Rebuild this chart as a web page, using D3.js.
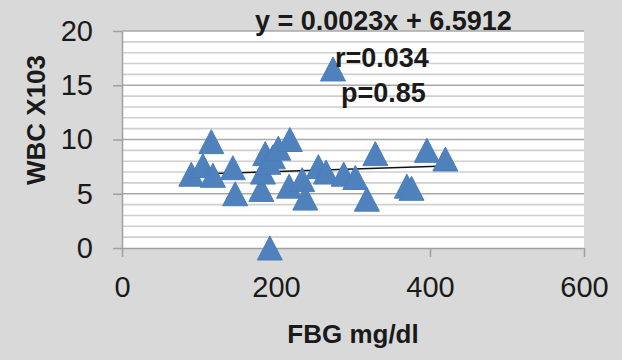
<!DOCTYPE html>
<html>
<head>
<meta charset="utf-8">
<script src="https://cdn.jsdelivr.net/npm/d3@7"></script>
<style>
  body { margin: 0; background: #d9d9d9; }
  text { font-family: "Liberation Sans", Arial, sans-serif; fill: #1a1a1a; }
</style>
</head>
<body>
<div id="chart"></div>
<script>
// data
const fbg = [90, 105, 116, 118, 144, 147, 181, 183, 186, 190, 192, 196, 203, 218, 217, 234, 238,
             255, 265, 274, 288, 303, 318, 329, 370, 376, 396, 420];
const wbc = [6.8, 7.6, 9.8, 6.7, 7.4, 5.0, 5.4, 7.0, 8.7, 7.9, 0, 8.4, 9.2, 10.0, 5.7, 6.3, 4.6,
             7.5, 7.0, 16.5, 6.8, 6.5, 4.5, 8.7, 5.7, 5.5, 9.0, 8.2];
const xTicks = [0, 200, 400, 600];
const yTicks = [0, 5, 10, 15, 20];
const slope = 0.0023, intercept = 6.5912;
const labels = ["y = 0.0023x + 6.5912", "r=0.034", "p=0.85"];

const width = 622, height = 360;
const svg = d3.select('#chart').append('svg')
  .attr('width', width)
  .attr('height', height);

svg.append('rect').attr('width', width).attr('height', height).attr('fill', '#d9d9d9');

const x = d3.scaleLinear().domain([0, 600]).range([122, 584]);
const y = d3.scaleLinear().domain([0, 20]).range([248, 31]);

// plot area
svg.append('rect')
  .attr('x', x(0)).attr('y', y(20))
  .attr('width', x(600) - x(0)).attr('height', y(0) - y(20))
  .attr('fill', '#fff');

// minor + major gridlines
const minor = d3.range(1, 20).filter(v => v % 5 !== 0);
svg.append('g').selectAll('line').data(minor).join('line')
  .attr('x1', x(0)).attr('x2', x(600))
  .attr('y1', d => y(d)).attr('y2', d => y(d))
  .attr('stroke', '#cfcfcf').attr('stroke-width', 1.6);
svg.append('g').selectAll('line').data(yTicks.filter(v => v > 0)).join('line')
  .attr('x1', x(0)).attr('x2', x(600))
  .attr('y1', d => y(d)).attr('y2', d => y(d))
  .attr('stroke', '#a8a8a8').attr('stroke-width', 1.6);

// axes
const yAxis = svg.append('g')
  .attr('transform', `translate(${x(0)},0)`)
  .call(d3.axisLeft(y).tickValues(yTicks).tickSize(9).tickPadding(20).tickSizeOuter(0));
const xAxis = svg.append('g')
  .attr('transform', `translate(0,${y(0)})`)
  .call(d3.axisBottom(x).tickValues(xTicks).tickSize(9).tickPadding(19).tickSizeOuter(0));
[yAxis, xAxis].forEach(a => {
  a.selectAll('path, line').attr('stroke', '#a0a0a0').attr('stroke-width', 1.5);
  a.selectAll('text').attr('font-size', 29).attr('fill', '#1a1a1a')
    .attr('font-family', '"Liberation Sans", Arial, sans-serif');
});

// trendline over the data range
const xr = d3.extent(fbg);
svg.append('line')
  .attr('x1', x(xr[0])).attr('y1', y(slope * xr[0] + intercept))
  .attr('x2', x(xr[1])).attr('y2', y(slope * xr[1] + intercept))
  .attr('stroke', '#111').attr('stroke-width', 1.5);

// triangle markers
const tw = 25, th = 24;
const tri = `M0,${-th / 2}L${tw / 2},${th / 2}L${-tw / 2},${th / 2}Z`;
svg.append('g').selectAll('path').data(fbg).join('path')
  .attr('d', tri)
  .attr('transform', (d, i) => `translate(${x(d)},${y(wbc[i])})`)
  .attr('fill', '#4f81bd')
  .attr('stroke', '#4a7ebb').attr('stroke-width', 1);

// regression text
svg.append('text').attr('x', 255).attr('y', 30)
  .attr('font-size', 27).attr('font-weight', 'bold').text(labels[0]);
svg.append('text').attr('x', 335).attr('y', 67)
  .attr('font-size', 27).attr('font-weight', 'bold').text(labels[1]);
svg.append('text').attr('x', 341).attr('y', 102)
  .attr('font-size', 27).attr('font-weight', 'bold').text(labels[2]);

// axis titles
svg.append('text')
  .attr('x', (x(0) + x(600)) / 2).attr('y', 343)
  .attr('text-anchor', 'middle')
  .attr('font-size', 26).attr('font-weight', 'bold')
  .text('FBG mg/dl');
svg.append('text')
  .attr('transform', 'translate(45,120) rotate(-90)')
  .attr('text-anchor', 'middle')
  .attr('font-size', 26).attr('font-weight', 'bold')
  .text('WBC X103');
</script>
</body>
</html>
